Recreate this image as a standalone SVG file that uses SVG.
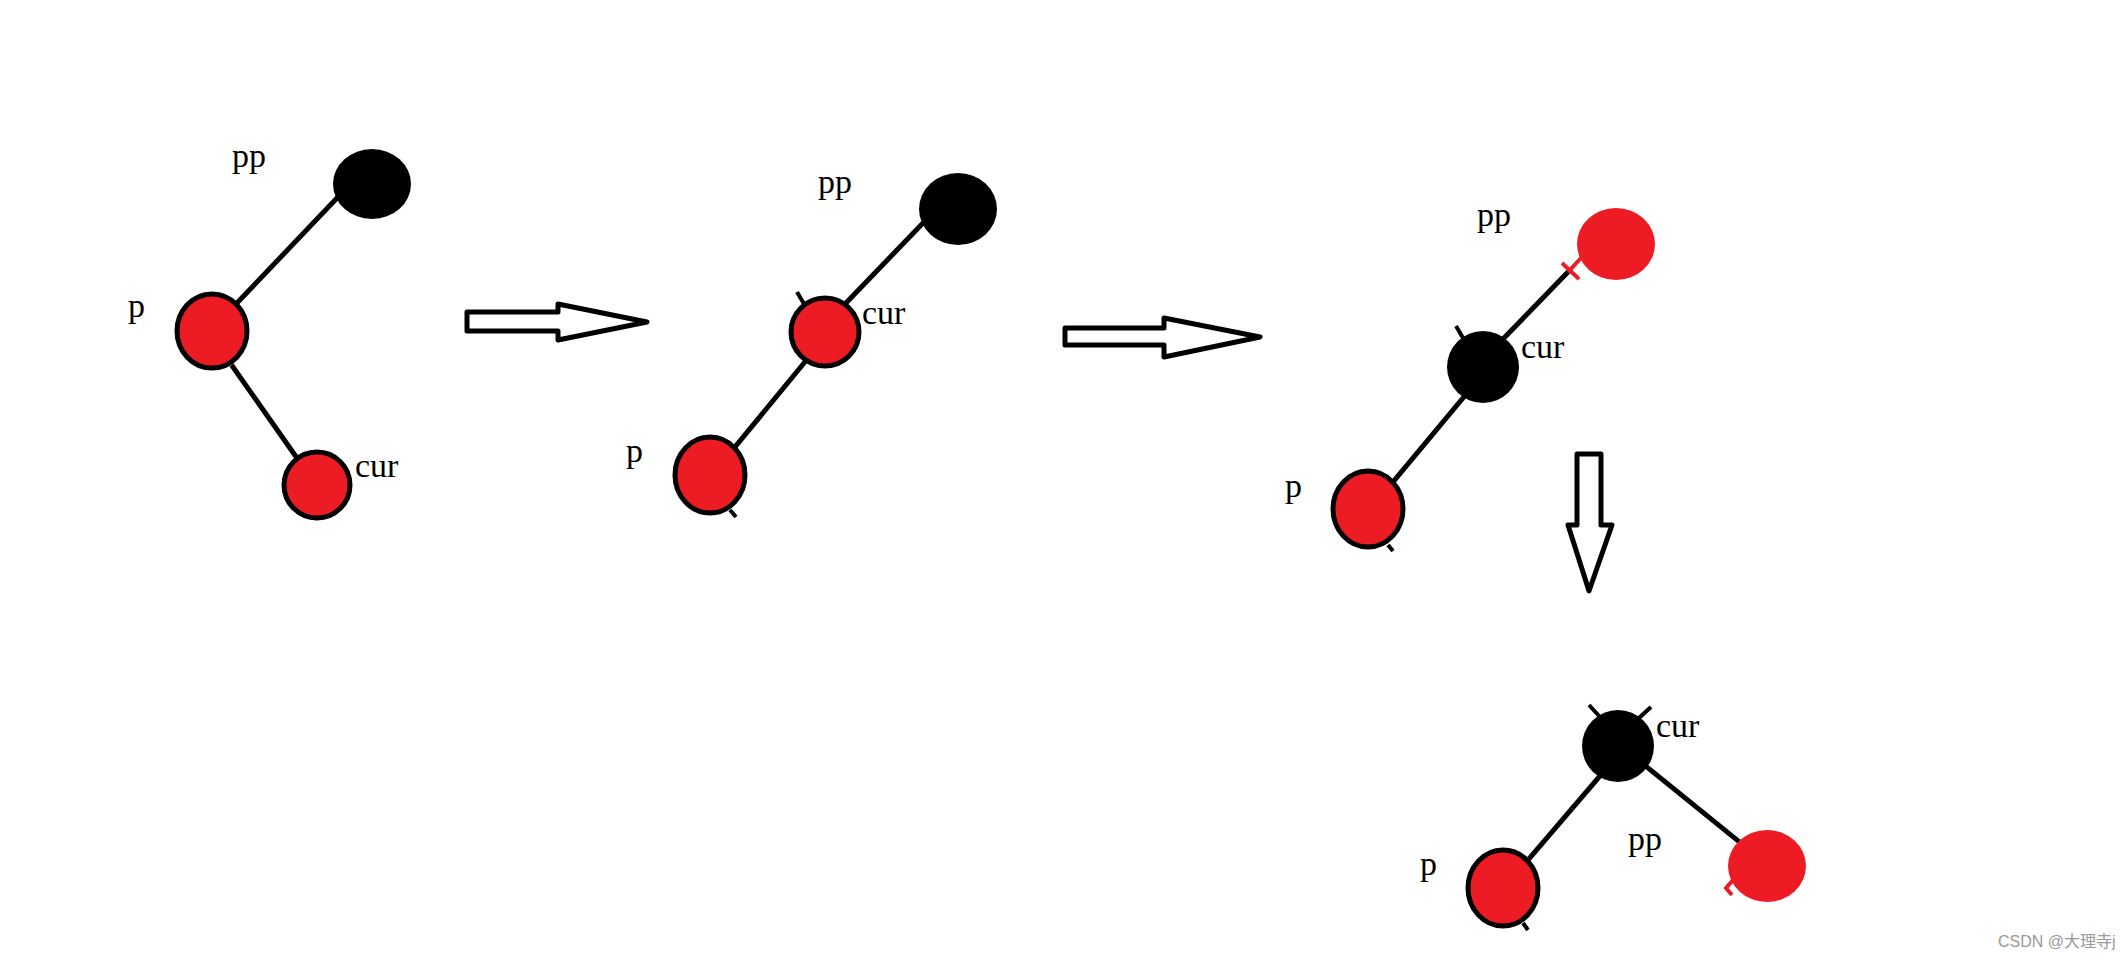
<svg xmlns="http://www.w3.org/2000/svg" width="2124" height="960" viewBox="0 0 2124 960">
<style>
.lbl{font-family:"Liberation Serif","Times New Roman",serif;font-size:34px;fill:#000}
.edge{stroke:#000;stroke-width:5;stroke-linecap:square;fill:none}
.tick{stroke:#000;stroke-width:4;fill:none}
.rtick{stroke:#ED1C24;stroke-width:4;fill:none}
.blk{fill:#000}
.red{fill:#ED1C24;stroke:#000;stroke-width:5}
.redn{fill:#ED1C24}
.arrow{fill:#fff;stroke:#000;stroke-width:5;stroke-linejoin:round}
.wm{font-family:"Liberation Sans","Noto Sans CJK SC",sans-serif;font-size:16px;fill:#999}
</style>
<rect width="2124" height="960" fill="#fff"/>
<g id="connectors">
  <line class="edge" x1="337" y1="198" x2="237" y2="303"/>
  <line class="edge" x1="233" y1="367" x2="299" y2="461"/>
  <line class="edge" x1="923" y1="223" x2="846" y2="303"/>
  <line class="edge" x1="809" y1="357" x2="735" y2="447"/>
  <line class="edge" x1="1567" y1="273" x2="1505" y2="337"/>
  <line class="edge" x1="1463" y1="398" x2="1393" y2="482"/>
  <line class="edge" x1="1599" y1="777" x2="1528" y2="860"/>
  <line class="edge" x1="1648" y1="768" x2="1747" y2="848"/>
  <line class="tick" x1="797" y1="292" x2="807" y2="309"/>
  <line class="tick" x1="730" y1="510" x2="736" y2="517"/>
  <line class="tick" x1="1456" y1="326" x2="1463" y2="338"/>
  <line class="tick" x1="1388" y1="545" x2="1393" y2="551"/>
  <line class="tick" x1="1589" y1="705" x2="1600" y2="717"/>
  <line class="tick" x1="1651" y1="707" x2="1639" y2="718"/>
  <line class="tick" x1="1523" y1="923" x2="1528" y2="930"/>
  <line class="rtick" x1="1562" y1="263" x2="1579" y2="279"/>
  <line class="rtick" x1="1568" y1="272" x2="1582" y2="257"/>
  <polyline class="rtick" points="1734,879 1726,888 1732,895"/>
</g>
<g id="arrows">
  <polygon class="arrow" points="467,312 558,312 558,304 647,322 558,340 558,331 467,331"/>
  <polygon class="arrow" points="1065,328 1164,328 1164,318 1260,337 1164,357 1164,345 1065,345"/>
  <polygon class="arrow" points="1577,454 1601,454 1601,525 1612,525 1589,591 1568,525 1577,525"/>
</g>
<g id="tree1">
  <g id="t1-pp"><ellipse class="blk" cx="372" cy="184" rx="39" ry="35"/><text class="lbl" x="232" y="167">pp</text></g>
  <g id="t1-p"><ellipse class="red" cx="212" cy="331" rx="35" ry="37"/><text class="lbl" x="128" y="317">p</text></g>
  <g id="t1-cur"><ellipse class="red" cx="317" cy="485" rx="33" ry="33"/><text class="lbl" x="355" y="477">cur</text></g>
</g>
<g id="tree2">
  <g id="t2-pp"><ellipse class="blk" cx="958" cy="209" rx="39" ry="36"/><text class="lbl" x="818" y="193">pp</text></g>
  <g id="t2-cur"><ellipse class="red" cx="825" cy="332" rx="34" ry="34"/><text class="lbl" x="862" y="324">cur</text></g>
  <g id="t2-p"><ellipse class="red" cx="710" cy="475" rx="35" ry="38"/><text class="lbl" x="626" y="462">p</text></g>
</g>
<g id="tree3">
  <g id="t3-pp"><ellipse class="redn" cx="1616" cy="244" rx="39" ry="36"/><text class="lbl" x="1477" y="226">pp</text></g>
  <g id="t3-cur"><ellipse class="blk" cx="1483" cy="367" rx="36" ry="36"/><text class="lbl" x="1521" y="358">cur</text></g>
  <g id="t3-p"><ellipse class="red" cx="1368" cy="509" rx="35" ry="38"/><text class="lbl" x="1285" y="497">p</text></g>
</g>
<g id="tree4">
  <g id="t4-cur"><ellipse class="blk" cx="1618" cy="746" rx="36" ry="36"/><text class="lbl" x="1656" y="737">cur</text></g>
  <g id="t4-p"><ellipse class="red" cx="1503" cy="888" rx="35" ry="38"/><text class="lbl" x="1420" y="875">p</text></g>
  <g id="t4-pp"><ellipse class="redn" cx="1767" cy="866" rx="39" ry="36"/><text class="lbl" x="1628" y="850">pp</text></g>
</g>
<text class="wm" x="1998" y="947">CSDN @大理寺j</text>
</svg>
